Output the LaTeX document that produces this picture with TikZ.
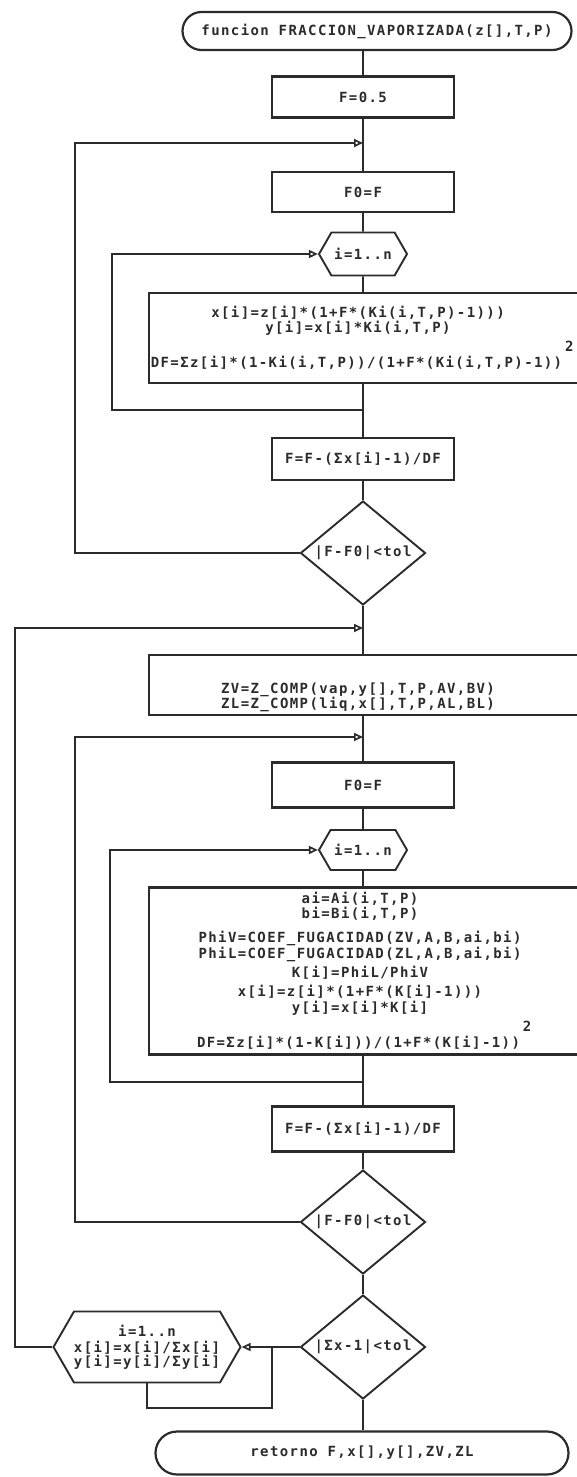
\documentclass[tikz,border=0pt]{standalone}
\usepackage{fontspec}
\usetikzlibrary{arrows.meta,shapes.geometric,shapes.misc,shapes.symbols}
\newfontfamily\fvfont[LetterSpace=10]{DejaVu Sans Mono}
\newcommand\fvtext{\fvfont\bfseries\fontsize{14pt}{12pt}\selectfont}
\newcommand\fvsq{\kern3pt\rlap{\smash{\raisebox{16pt}{2}}}}
\definecolor{fvInk}{HTML}{2B2B2B}
\tikzset{
  fv line/.style={draw=fvInk, line width=1.7pt},
  fv arrow/.style={fv line, -{Triangle[open, length=9pt, width=8pt]}},
  fv box/.style={rectangle, draw=fvInk, line width=2.2pt, minimum width=182pt, inner sep=0pt, font=\fvtext, text=fvInk},
  fv wide/.style={rectangle, draw=fvInk, line width=2.2pt, minimum width=460pt, inner sep=0pt},
  fv loop/.style={signal, signal to=east and west, signal pointer angle=120, draw=fvInk, line width=1.9pt, inner sep=0pt, font=\fvtext, text=fvInk, align=center},
  fv cond/.style={diamond, aspect=2, draw=fvInk, line width=1.9pt, minimum width=125pt, minimum height=104pt, inner sep=0pt, font=\fvtext, text=fvInk},
  fv term/.style={rounded rectangle, draw=fvInk, line width=2.2pt, inner sep=0pt, font=\fvtext, text=fvInk},
  fv text/.style={font=\fvtext, text=fvInk, align=center},
}

\begin{document}
\begin{tikzpicture}[x=1pt, y=-1pt]
  \useasboundingbox (0,0) rectangle (576,1477);

  % Start of the function
  \node[fv term, minimum width=389pt, minimum height=38pt] (t1) at (377,31) {funcion FRACCION\_VAPORIZADA(z[],T,P)};
  \node[fv box, minimum height=41pt] (b05) at (363,97) {F=0.5};

  % First estimate of F (ideal K)
  \coordinate (j1) at (363,143);
  \coordinate (l1) at (75,143);
  \node[fv box, minimum height=40pt] (bF0) at (363,192) {F0=F};
  \node[fv loop, minimum width=88pt, minimum height=43pt] (h1) at (363,254) {i=1..n};
  \coordinate (i1) at (112,254);
  \node[fv wide, minimum height=90pt] (bx1) at (379,338) {};
  \node[fv text] (tx1) at (358,338) {x[i]=z[i]*(1+F*(Ki(i,T,P)-1)))\\y[i]=x[i]*Ki(i,T,P)\\[20pt]DF=Σz[i]*(1-Ki(i,T,P))/(1+F*(Ki(i,T,P)-1))\fvsq};
  \coordinate (r1) at (363,410);
  \node[fv box, minimum height=42pt] (bF1) at (363,459) {F=F-(Σx[i]-1)/DF};
  \node[fv cond] (d1) at (363,553) {|F-F0|<tol};

  % Compressibility factors
  \coordinate (j2) at (363,628);
  \coordinate (l2) at (15,628);
  \node[fv wide, minimum height=60pt] (bzv) at (379,685) {};
  \node[fv text] (tzv) at (358,697) {ZV=Z\_COMP(vap,y[],T,P,AV,BV)\\[-1pt]ZL=Z\_COMP(liq,x[],T,P,AL,BL)};

  % Second loop on F with fugacity coefficients
  \coordinate (j3) at (363,737);
  \coordinate (l3) at (75,737);
  \node[fv box, minimum height=45pt] (bF02) at (363,785) {F0=F};
  \node[fv loop, minimum width=88pt, minimum height=40pt] (h2) at (363,850) {i=1..n};
  \coordinate (i2) at (110,850);
  \node[fv wide, minimum height=167pt] (bx2) at (379,971) {};
  \node[fv text] (tx2) at (360,971) {ai=Ai(i,T,P)\\bi=Bi(i,T,P)\\[10pt]PhiV=COEF\_FUGACIDAD(ZV,A,B,ai,bi)\\PhiL=COEF\_FUGACIDAD(ZL,A,B,ai,bi)\\[4pt]K[i]=PhiL/PhiV\\[4pt]x[i]=z[i]*(1+F*(K[i]-1)))\\[2pt]y[i]=x[i]*K[i]\\[20pt]DF=Σz[i]*(1-K[i]))/(1+F*(K[i]-1))\fvsq};
  \coordinate (r2) at (363,1082);
  \node[fv box, minimum height=45pt] (bF2) at (363,1129) {F=F-(Σx[i]-1)/DF};
  \node[fv cond] (d2) at (363,1222) {|F-F0|<tol};

  % Normalisation and return
  \node[fv cond] (d3) at (363,1347) {|Σx-1|<tol};
  \node[fv loop, minimum width=187pt, minimum height=71pt] (h3) at (147,1347) {i=1..n\\[4pt]x[i]=x[i]/Σx[i]\\y[i]=y[i]/Σy[i]};
  \coordinate (k3) at (272,1347);
  \coordinate (k3b) at (272,1408);
  \node[fv term, minimum width=413pt, minimum height=43pt] (t2) at (362,1453) {retorno F,x[],y[],ZV,ZL};

  % Main axis
  \draw[fv line] (b05.north |- t1.south) -- (b05);
  \draw[fv line] (b05) -- (bF0);
  \draw[fv line] (bF0) -- (h1);
  \draw[fv line] (h1) -- (h1 |- bx1.north);
  \draw[fv line] (h1 |- bx1.south) -- (bF1);
  \draw[fv line] (bF1) -- (d1);
  \draw[fv line] (d1) -- (d1 |- bzv.north);
  \draw[fv line] (d1 |- bzv.south) -- (bF02);
  \draw[fv line] (bF02) -- (h2);
  \draw[fv line] (h2) -- (h2 |- bx2.north);
  \draw[fv line] (h2 |- bx2.south) -- (bF2);
  \draw[fv line] (bF2) -- (d2);
  \draw[fv line] (d2) -- (d3);
  \draw[fv line] (d3) -- (d3 |- t2.north);

  % Loop returns
  \draw[fv arrow] (d1.west) -| (l1) -- (j1);
  \draw[fv arrow] (r1) -| (i1) -- (h1.west);
  \draw[fv arrow] (d2.west) -| (l3) -- (j3);
  \draw[fv arrow] (r2) -| (i2) -- (h2.west);
  \draw[fv arrow] (h3.west) -| (l2) -- (j2);
  \draw[fv arrow] (d3.west) -- (h3.east);
  \draw[fv line] (k3) -- (k3b) -| (h3.south);
\end{tikzpicture}
\end{document}
